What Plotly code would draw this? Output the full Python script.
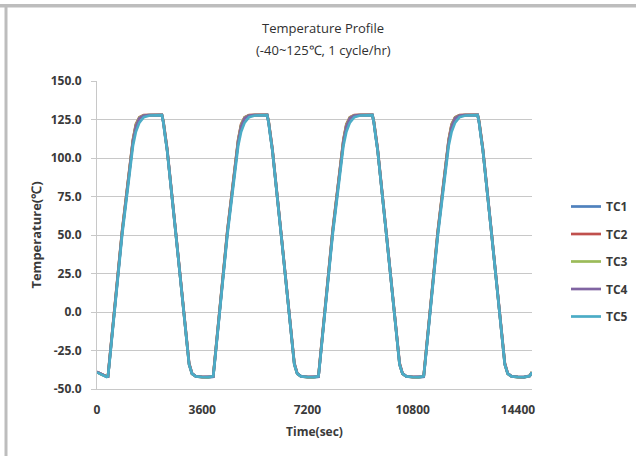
import plotly.graph_objects as go

# ---- data ----
time_sec = [
    0, 150, 330,
    375, 420, 860, 1230, 1330, 1450, 1600, 1800, 2220, 2270, 2330, 2400, 2700, 3000, 3150, 3250, 3380, 3600, 3800,
    3975, 4020, 4460, 4830, 4930, 5050, 5200, 5400, 5820, 5870, 5930, 6000, 6300, 6600, 6750, 6850, 6980, 7200, 7400,
    7575, 7620, 8060, 8430, 8530, 8650, 8800, 9000, 9420, 9470, 9530, 9600, 9900, 10200, 10350, 10450, 10580, 10800, 11000,
    11175, 11220, 11660, 12030, 12130, 12250, 12400, 12600, 13020, 13070, 13130, 13200, 13500, 13800, 13950, 14050, 14180, 14400, 14600,
    14800, 14880,
]

tc1 = [
    -39, -40.5, -42,
    -42, -33, 52, 111, 121, 126, 127.6, 127.9, 128, 123.5, 114.5, 105.5, 50.5, -7.5, -33.5, -40, -41.8, -42.3, -42.4,
    -42, -33, 52, 111, 121, 126, 127.6, 127.9, 128, 123.5, 114.5, 105.5, 50.5, -7.5, -33.5, -40, -41.8, -42.3, -42.4,
    -42, -33, 52, 111, 121, 126, 127.6, 127.9, 128, 123.5, 114.5, 105.5, 50.5, -7.5, -33.5, -40, -41.8, -42.3, -42.4,
    -42, -33, 52, 111, 121, 126, 127.6, 127.9, 128, 123.5, 114.5, 105.5, 50.5, -7.5, -33.5, -40, -41.8, -42.3, -42.4,
    -41.6, -39.2,
]
tc2 = [
    -39, -40.4, -41.9,
    -41.9, -32.5, 53, 112, 122, 126.5, 127.8, 128, 128, 124, 115, 106, 51, -7, -33, -39.8, -41.7, -42.1, -42.2,
    -41.9, -32.5, 53, 112, 122, 126.5, 127.8, 128, 128, 124, 115, 106, 51, -7, -33, -39.8, -41.7, -42.1, -42.2,
    -41.9, -32.5, 53, 112, 122, 126.5, 127.8, 128, 128, 124, 115, 106, 51, -7, -33, -39.8, -41.7, -42.1, -42.2,
    -41.9, -32.5, 53, 112, 122, 126.5, 127.8, 128, 128, 124, 115, 106, 51, -7, -33, -39.8, -41.7, -42.1, -42.2,
    -41.5, -39.1,
]
tc3 = [
    -39, -40.6, -41.8,
    -41.7, -33, 52.5, 111.5, 121.5, 126.3, 127.7, 127.9, 127.9, 123.5, 114, 105, 50, -8, -34, -40.2, -41.9, -42.3, -42.4,
    -41.7, -33, 52.5, 111.5, 121.5, 126.3, 127.7, 127.9, 127.9, 123.5, 114, 105, 50, -8, -34, -40.2, -41.9, -42.3, -42.4,
    -41.7, -33, 52.5, 111.5, 121.5, 126.3, 127.7, 127.9, 127.9, 123.5, 114, 105, 50, -8, -34, -40.2, -41.9, -42.3, -42.4,
    -41.7, -33, 52.5, 111.5, 121.5, 126.3, 127.7, 127.9, 127.9, 123.5, 114, 105, 50, -8, -34, -40.2, -41.9, -42.3, -42.4,
    -41.4, -39.0,
]
tc4 = [
    -39, -40.5, -42,
    -42, -33.5, 51.5, 110.5, 120.5, 125.8, 127.5, 127.8, 127.9, 123, 114, 105, 50, -8, -34, -40, -41.8, -42.2, -42.3,
    -42, -33.5, 51.5, 110.5, 120.5, 125.8, 127.5, 127.8, 127.9, 123, 114, 105, 50, -8, -34, -40, -41.8, -42.2, -42.3,
    -42, -33.5, 51.5, 110.5, 120.5, 125.8, 127.5, 127.8, 127.9, 123, 114, 105, 50, -8, -34, -40, -41.8, -42.2, -42.3,
    -42, -33.5, 51.5, 110.5, 120.5, 125.8, 127.5, 127.8, 127.9, 123, 114, 105, 50, -8, -34, -40, -41.8, -42.2, -42.3,
    -41.5, -39.1,
]
tc5 = [
    -39.2, -40.8, -42.2,
    -41.8, -34, 50, 108, 117, 123, 126.5, 127.6, 127.8, 123, 114, 105, 50, -8, -34, -40, -41.8, -42.2, -42.3,
    -41.8, -34, 50, 108, 117, 123, 126.5, 127.6, 127.8, 123, 114, 105, 50, -8, -34, -40, -41.8, -42.2, -42.3,
    -41.8, -34, 50, 108, 117, 123, 126.5, 127.6, 127.8, 123, 114, 105, 50, -8, -34, -40, -41.8, -42.2, -42.3,
    -41.8, -34, 50, 108, 117, 123, 126.5, 127.6, 127.8, 123, 114, 105, 50, -8, -34, -40, -41.8, -42.2, -42.3,
    -41.6, -39.2,
]

series_names = ["TC1", "TC2", "TC3", "TC4", "TC5"]
series_values = [tc1, tc2, tc3, tc4, tc5]
series_colors = ["#4F81BD", "#C0504D", "#9BBB59", "#8064A2", "#4BACC6"]

x_ticks = [0, 3600, 7200, 10800, 14400]
y_ticks = [-50, -25, 0, 25, 50, 75, 100, 125, 150]
y_tick_labels = ["-50.0", "-25.0", "0.0", "25.0", "50.0", "75.0", "100.0", "125.0", "150.0"]
x_max = 14880

FONT = "Open Sans"
TXT = "#3a3a3a"
GRID = "#C8C8C8"
BOLD = dict(family=FONT, size=12, color=TXT, weight="bold")

fig = go.Figure()
for name, vals, col in zip(series_names, series_values, series_colors):
    fig.add_trace(go.Scatter(
        x=time_sec, y=vals, name=name, mode="lines",
        line=dict(color=col, width=2.7), legendgroup=name,
    ))

# plot area: x 97..532, y 81..389 px
L, R, T, B = 97, 104, 81, 67
W, H = 636, 456
pw, ph = W - L - R, H - T - B

def px_x(p):
    return (p - L) / pw

def px_y(p):
    return (H - B - p) / ph

fig.update_layout(
    width=W, height=H,
    margin=dict(l=L, r=R, t=T, b=B, pad=0, autoexpand=False),
    paper_bgcolor="white", plot_bgcolor="white",
    font=dict(family=FONT, size=12, color=TXT),
    showlegend=True,
    legend=dict(
        x=px_x(566), y=px_y(261.5), xanchor="left", yanchor="middle",
        font=BOLD, tracegroupgap=8.5, itemwidth=30, bgcolor="rgba(0,0,0,0)",
    ),
    xaxis=dict(
        range=[0, x_max], tickmode="array", tickvals=x_ticks,
        ticktext=[str(v) for v in x_ticks], automargin=False,
        showgrid=False, zeroline=False, showline=True, linecolor=GRID, linewidth=1,
        ticks="", ticklabelstandoff=10, tickfont=BOLD,
        title=dict(text="Time(sec)", standoff=10, font=BOLD),
    ),
    xaxis2=dict(
        overlaying="x", anchor="free", side="top", position=0.25,
        range=[0, x_max], tick0=0, dtick=1800, ticks="outside", ticklen=3,
        tickcolor="#B8B8B8", showticklabels=False, showgrid=False,
        zeroline=False, showline=False, automargin=False,
    ),
    yaxis=dict(
        range=[-50, 150], tickmode="array", tickvals=y_ticks, ticktext=y_tick_labels,
        showgrid=True, gridcolor=GRID, gridwidth=1, zeroline=False, automargin=False,
        showline=True, linecolor=GRID, linewidth=1,
        ticks="outside", ticklen=5, tickcolor=GRID, ticklabelstandoff=7,
        tickfont=BOLD,
        title=dict(text="Temperature(℃)", standoff=6,
                   font=dict(family=FONT, size=13, color=TXT, weight="bold")),
    ),
    annotations=[
        dict(text="Temperature Profile", xref="paper", yref="paper",
             x=px_x(323), y=px_y(28), xanchor="center", yanchor="middle",
             showarrow=False, font=dict(family=FONT, size=13, color="#303030")),
        dict(text="(-40~125℃, 1 cycle/hr)", xref="paper", yref="paper",
             x=px_x(323), y=px_y(50), xanchor="center", yanchor="middle",
             showarrow=False, font=dict(family=FONT, size=13, color="#303030")),
    ],
    shapes=[
        dict(type="line", xref="paper", yref="paper",
             x0=px_x(0), x1=px_x(W), y0=px_y(5.8), y1=px_y(5.8),
             line=dict(color="#BDBDBD", width=3.5)),
        dict(type="line", xref="paper", yref="paper",
             x0=px_x(6), x1=px_x(6), y0=px_y(4), y1=px_y(H),
             line=dict(color="#BDBDBD", width=3)),
    ],
)

fig.write_html("out.html", config={"displayModeBar": False},
               post_script="document.body.style.margin='0';")
